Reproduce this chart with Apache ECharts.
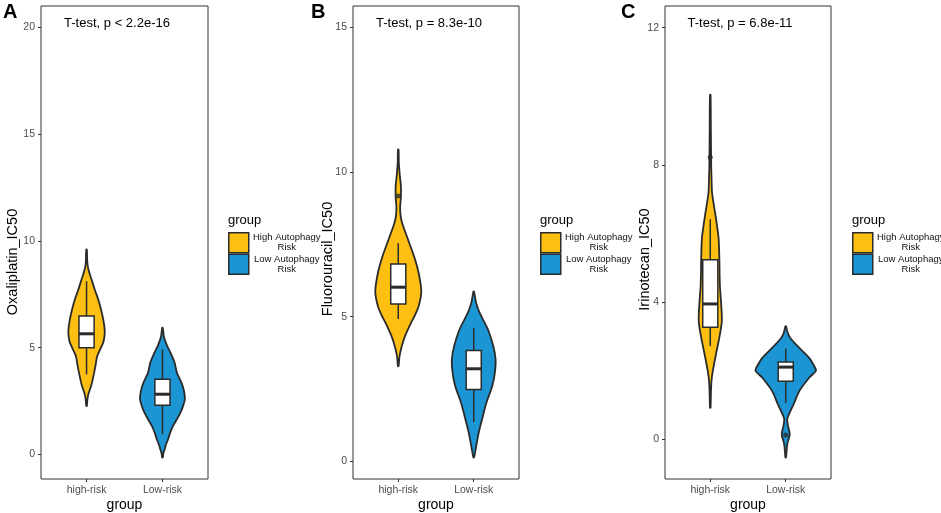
<!DOCTYPE html>
<html>
<head>
<meta charset="utf-8">
<script src="https://cdn.jsdelivr.net/npm/echarts@6/dist/echarts.min.js"></script>
<style>
html, body { margin: 0; padding: 0; background: #fff; }
#main { width: 941px; height: 513px; }
</style>
</head>
<body>
<div id="main"></div>
<script>
var categories = ['high-risk', 'Low-risk'];
var groupNames = ['High Autophagy Risk', 'Low Autophagy Risk'];
var groupColors = ['#FCBF12', '#1B95D4'];
var yTitles = ['Oxaliplatin_IC50', 'Fluorouracil_IC50', 'Irinotecan_IC50'];
var testLabels = ['T-test, p < 2.2e-16', 'T-test, p = 8.3e-10', 'T-test, p = 6.8e-11'];
var panelLetters = ['A', 'B', 'C'];

var oxaTicks = [0, 5, 10, 15, 20];
var fluTicks = [0, 5, 10, 15];
var iriTicks = [0, 4, 8, 12];

// violin outlines: value, half width (in group units)
var oxaHighY = [9.59, 9.0, 8.66, 8.19, 7.7, 7.26, 6.8, 6.32, 5.78, 5.3, 5.0, 4.6, 4.2, 3.83, 3.5, 3.2, 2.9, 2.6, 2.27];
var oxaHighW = [0.004, 0.01, 0.025, 0.066, 0.11, 0.154, 0.19, 0.22, 0.24, 0.225, 0.19, 0.14, 0.12, 0.1, 0.08, 0.06, 0.03, 0.012, 0.004];
var oxaLowY = [5.93, 5.5, 5.1, 4.77, 4.3, 3.83, 3.36, 2.95, 2.58, 2.25, 1.96, 1.65, 1.34, 1.0, 0.71, 0.45, 0.25, 0.05, -0.14];
var oxaLowW = [0.004, 0.02, 0.06, 0.105, 0.16, 0.19, 0.25, 0.285, 0.295, 0.27, 0.237, 0.19, 0.14, 0.1, 0.075, 0.045, 0.03, 0.012, 0.004];

var fluHighY = [10.78, 10.3, 9.9, 9.5, 9.15, 8.8, 8.5, 8.23, 7.66, 7.08, 6.51, 5.87, 5.36, 5.05, 4.78, 4.32, 3.92, 3.6, 3.29];
var fluHighW = [0.004, 0.008, 0.02, 0.035, 0.035, 0.025, 0.03, 0.052, 0.13, 0.21, 0.27, 0.305, 0.27, 0.22, 0.167, 0.088, 0.04, 0.015, 0.004];
var fluLowY = [5.87, 5.47, 5.13, 4.55, 3.98, 3.52, 3.06, 2.6, 2.02, 1.45, 0.99, 0.53, 0.13];
var fluLowW = [0.004, 0.033, 0.079, 0.19, 0.26, 0.29, 0.28, 0.245, 0.167, 0.11, 0.066, 0.033, 0.004];

var iriHighY = [10.04, 9.0, 8.0, 7.5, 7.23, 7.03, 6.45, 5.87, 5.29, 4.51, 3.93, 3.45, 2.97, 2.48, 1.99, 1.7, 1.3, 0.93];
var iriHighW = [0.004, 0.008, 0.012, 0.018, 0.022, 0.033, 0.075, 0.11, 0.12, 0.127, 0.145, 0.153, 0.12, 0.075, 0.033, 0.016, 0.008, 0.004];
var iriLowY = [3.3, 3.11, 2.96, 2.67, 2.38, 2.09, 2.0, 1.8, 1.41, 1.03, 0.74, 0.59, 0.4, 0.15, -0.14, -0.52];
var iriLowW = [0.004, 0.026, 0.06, 0.18, 0.31, 0.39, 0.4, 0.31, 0.18, 0.105, 0.044, 0.02, 0.03, 0.053, 0.02, 0.004];

// box stats: group, lower whisker, q1, median, q3, upper whisker
var oxaBox = [[1, 3.75, 5.0, 5.65, 6.48, 8.11], [2, 0.95, 2.30, 2.82, 3.52, 4.92]];
var fluBox = [[1, 4.92, 5.44, 6.02, 6.82, 7.54], [2, 1.36, 2.48, 3.2, 3.83, 4.61]];
var iriBox = [[1, 2.72, 3.27, 3.95, 5.24, 6.42], [2, 1.06, 1.70, 2.11, 2.26, 2.65]];
var oxaOutliers = [];
var fluOutliers = [[1, 9.17]];
var iriOutliers = [[1, 8.22], [2, 0.13]];

var panels = [
	{ left: 41, width: 167, min: -1.15, max: 21.0, ticks: oxaTicks,
	  violins: [[oxaHighY, oxaHighW], [oxaLowY, oxaLowW]], box: oxaBox, out: oxaOutliers,
	  titleX: 12.5, titleY: 262, testX: 117, letterX: 3, legendX: 228 },
	{ left: 353, width: 166, min: -0.61, max: 15.74, ticks: fluTicks,
	  violins: [[fluHighY, fluHighW], [fluLowY, fluLowW]], box: fluBox, out: fluOutliers,
	  titleX: 328, titleY: 259, testX: 429, letterX: 311, legendX: 540 },
	{ left: 665, width: 166, min: -1.15, max: 12.63, ticks: iriTicks,
	  violins: [[iriHighY, iriHighW], [iriLowY, iriLowW]], box: iriBox, out: iriOutliers,
	  titleX: 645, titleY: 259.5, testX: 740, letterX: 621, legendX: 852 }
];

var dark = '#2b2b2b';

function violinItem(params, api) {
	// draw whole outline once, from all rows of the series
	if (params.dataIndexInside !== 0) return;
	var n = params.dataInsideLength;
	var pts = [];
	var i;
	for (i = 0; i < n; i++) {
		pts.push(api.coord([api.value(0, i) + api.value(2, i), api.value(1, i)]));
	}
	for (i = n - 1; i >= 0; i--) {
		pts.push(api.coord([api.value(0, i) - api.value(2, i), api.value(1, i)]));
	}
	return {
		type: 'polygon',
		shape: { points: pts, smooth: 0.3 },
		style: { fill: api.visual('color'), stroke: dark, lineWidth: 1.8, lineJoin: 'round' }
	};
}

function boxItem(params, api) {
	var x = api.value(0);
	var lo = api.coord([x, api.value(1)]);
	var q1 = api.coord([x, api.value(2)]);
	var md = api.coord([x, api.value(3)]);
	var q3 = api.coord([x, api.value(4)]);
	var hi = api.coord([x, api.value(5)]);
	var l = api.coord([x - 0.1, api.value(3)])[0];
	var r = api.coord([x + 0.1, api.value(3)])[0];
	var s = { stroke: dark, lineWidth: 1.5 };
	return {
		type: 'group',
		children: [
			{ type: 'line', shape: { x1: lo[0], y1: lo[1], x2: q1[0], y2: q1[1] }, style: s },
			{ type: 'line', shape: { x1: q3[0], y1: q3[1], x2: hi[0], y2: hi[1] }, style: s },
			{ type: 'rect', shape: { x: l, y: q3[1], width: r - l, height: q1[1] - q3[1] },
			  style: { fill: '#fff', stroke: dark, lineWidth: 1.5 } },
			{ type: 'line', shape: { x1: l, y1: md[1], x2: r, y2: md[1] }, style: { stroke: dark, lineWidth: 3 } }
		]
	};
}

var option = {
	animation: false,
	textStyle: { fontFamily: 'Liberation Sans, Arial, sans-serif' },
	grid: [], xAxis: [], yAxis: [], series: [], legend: [], graphic: []
};

panels.forEach(function (p, k) {
	option.grid.push({
		left: p.left, top: 6, width: p.width, height: 473,
		outerBoundsMode: 'none', containLabel: false,
		show: true, borderColor: '#333', borderWidth: 1, backgroundColor: '#fff'
	});
	option.xAxis.push({
		type: 'value', gridIndex: k, min: 0.4, max: 2.6,
		name: 'group', nameLocation: 'middle', nameGap: 19, nameMoveOverlap: false,
		nameTextStyle: { fontSize: 14, color: '#000' },
		axisLine: { show: false, onZero: false },
		splitLine: { show: false },
		axisTick: { show: true, length: 3, customValues: [1, 2], lineStyle: { color: '#333' } },
		axisLabel: {
			customValues: [1, 2], margin: 6, fontSize: 10.5, color: '#4d4d4d',
			formatter: function (v) { return categories[Math.round(v) - 1]; }
		}
	});
	option.yAxis.push({
		type: 'value', gridIndex: k, min: p.min, max: p.max,
		axisLine: { show: false, onZero: false },
		splitLine: { show: false },
		axisTick: { show: true, length: 3, customValues: p.ticks, lineStyle: { color: '#333' } },
		axisLabel: { customValues: p.ticks, margin: 6, fontSize: 10.5, color: '#4d4d4d' }
	});
	p.violins.forEach(function (v, g) {
		var rows = [];
		for (var i = 0; i < v[0].length; i++) rows.push([g + 1, v[0][i], v[1][i]]);
		option.series.push({
			type: 'custom', name: groupNames[g], xAxisIndex: k, yAxisIndex: k,
			itemStyle: { color: groupColors[g] },
			renderItem: violinItem, data: rows, z: 2, silent: true
		});
	});
	option.series.push({
		type: 'custom', xAxisIndex: k, yAxisIndex: k,
		renderItem: boxItem, data: p.box, z: 3, silent: true
	});
	option.series.push({
		type: 'scatter', xAxisIndex: k, yAxisIndex: k, data: p.out,
		symbolSize: 5, itemStyle: { color: dark }, z: 4, silent: true
	});
	option.legend.push({
		left: p.legendX, top: 232, orient: 'vertical', itemGap: 0,
		itemWidth: 20, itemHeight: 20, icon: 'rect', selectedMode: false,
		padding: 0,
		data: groupNames,
		itemStyle: { borderColor: dark, borderWidth: 1.5 },
		formatter: function (name) {
			return '{a|' + name.replace(' Risk', '') + '}\n{a|Risk}';
		},
		textStyle: {
			color: '#111',
			rich: { a: { fontSize: 9.5, lineHeight: 10, width: 66, align: 'center', color: '#111' } }
		}
	});
	option.graphic.push(
		{ type: 'text', x: p.titleX, y: p.titleY, rotation: Math.PI / 2,
		  style: { text: yTitles[k], fontSize: 14.5, fill: '#000', align: 'center', verticalAlign: 'middle',
		           fontFamily: 'Liberation Sans, Arial, sans-serif' } },
		{ type: 'text', x: p.testX, y: 23,
		  style: { text: testLabels[k], fontSize: 13, fill: '#000', align: 'center', verticalAlign: 'middle',
		           fontFamily: 'Liberation Sans, Arial, sans-serif' } },
		{ type: 'text', x: p.letterX, y: 12,
		  style: { text: panelLetters[k], fontSize: 20, fontWeight: 'bold', fill: '#000', align: 'left', verticalAlign: 'middle',
		           fontFamily: 'Liberation Sans, Arial, sans-serif' } },
		{ type: 'text', x: p.legendX, y: 220,
		  style: { text: 'group', fontSize: 13, fill: '#000', align: 'left', verticalAlign: 'middle',
		           fontFamily: 'Liberation Sans, Arial, sans-serif' } }
	);
});

var myChart = echarts.init(document.getElementById('main'));
myChart.setOption(option);
</script>
</body>
</html>
